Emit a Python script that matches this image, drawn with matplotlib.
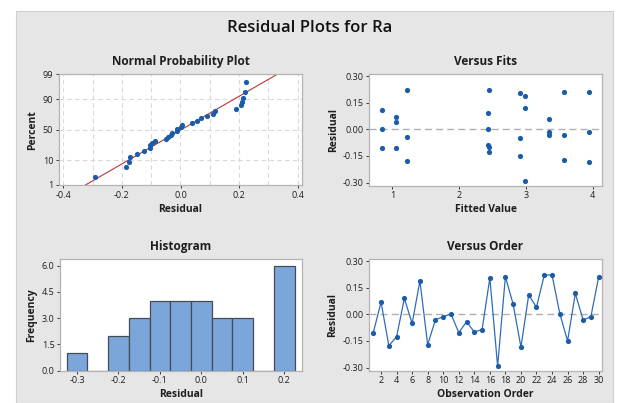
import numpy as np
import matplotlib
matplotlib.use("Agg")
import matplotlib.pyplot as plt
from matplotlib.patches import Rectangle
from statistics import NormalDist

# ---- data ----
residuals = [-0.103, 0.069, -0.177, -0.126, 0.090, -0.051, 0.189, -0.171, -0.030, -0.013,
             0.002, -0.103, -0.042, -0.099, -0.086, 0.206, -0.293, 0.213, 0.057, -0.185,
             0.110, 0.040, 0.222, 0.223, 0.004, -0.150, 0.118, -0.032, -0.013, 0.211]
group_fits = [0.84, 1.05, 1.22, 2.45, 2.43, 2.91, 2.99, 3.575, 3.34, 3.95]
fitted = [group_fits[i % 10] for i in range(30)]
order = list(range(1, 31))
hist_edges = [-0.325, -0.275, -0.225, -0.175, -0.125, -0.075, -0.025, 0.025, 0.075, 0.125, 0.175, 0.225]
pct_ticks = [1, 10, 50, 90, 99]
npp_xticks = [-0.4, -0.2, 0.0, 0.2, 0.4]
res_ticks = [-0.30, -0.15, 0.00, 0.15, 0.30]
res_ticklabels = ["-0.30", "-0.15", "0.00", "0.15", "0.30"]
fit_ticks = [1, 2, 3, 4]
order_ticks = list(range(2, 31, 2))
hist_yticks = [0.0, 1.5, 3.0, 4.5, 6.0]
hist_xticks = [-0.3, -0.2, -0.1, 0.0, 0.1, 0.2]

plt.rcParams['font.family'] = ['Open Sans', 'DejaVu Sans']

BG = "#e6e6e6"
BLUE = "#1a5ca8"
LINEBLUE = "#2f6cb8"
TXT = "#1e1e1e"
SPINE = "#b4b4b4"
MS = 14

fig = plt.figure(figsize=(6.19, 4.03), dpi=100)
fig.patch.set_facecolor("white")
# gray panel
fig.patches.append(Rectangle((16/619, 0), (613-16)/619, 1 - 11/403, transform=fig.transFigure,
                             facecolor=BG, edgecolor="#cfcfcf", linewidth=0.8, zorder=-10))
fig.text(0.5, 1 - 28/403, "Residual Plots for Ra", ha="center", va="center",
         fontsize=12, fontweight="semibold", color="#111111")

def style(ax):
    ax.set_facecolor("white")
    for s in ax.spines.values():
        s.set_color(SPINE)
        s.set_linewidth(0.9)
    ax.tick_params(axis="both", labelsize=6.5, colors=TXT, length=2.5, width=0.6, pad=1.5)
    for lab in ax.get_xticklabels() + ax.get_yticklabels():
        lab.set_color(TXT)

def fx(px): return px / 619
def fy(px): return 1 - px / 403

# ---------------- Normal probability plot ----------------
ax1 = fig.add_axes([fx(58.7), fy(185), fx(302.3 - 58.7), (185 - 74.3) / 403])
nd = NormalDist()
n = len(residuals)
srt = np.sort(residuals)
zq = np.array([nd.inv_cdf((i - 0.3) / (n + 0.4)) for i in range(1, n + 1)])
mu = float(np.mean(residuals))
sd = float(np.std(residuals, ddof=1))
zlo, zhi = nd.inv_cdf(0.01), nd.inv_cdf(0.99)
zz = np.linspace(zlo, zhi, 50)
for x in np.arange(-0.4, 0.41, 0.1):
    ax1.axvline(x, color="#d9d9d9", lw=0.8, ls=(0, (4, 3)), zorder=0)
for p in [10, 50, 90]:
    ax1.axhline(nd.inv_cdf(p / 100), color="#d9d9d9", lw=0.8, ls=(0, (4, 3)), zorder=0)
ax1.plot(mu + sd * zz, zz, color="#b5373a", lw=0.8, zorder=2)
ax1.scatter(srt, zq, s=MS, color=BLUE, zorder=3, linewidths=0)
ax1.set_xlim(-0.416, 0.416)
ax1.set_ylim(zlo, zhi)
ax1.set_xticks(npp_xticks)
ax1.set_xticklabels([f"{v:.1f}" for v in npp_xticks])
ax1.set_yticks([nd.inv_cdf(p / 100) for p in pct_ticks])
ax1.set_yticklabels([str(p) for p in pct_ticks])
style(ax1)
ax1.set_title("Normal Probability Plot", fontsize=8.5, fontweight="bold", color=TXT, pad=7)
ax1.set_xlabel("Residual", fontsize=7.5, fontweight="bold", color=TXT, labelpad=3)
ax1.set_ylabel("Percent", fontsize=7.5, fontweight="bold", color=TXT, labelpad=3)

# ---------------- Versus fits ----------------
ax2 = fig.add_axes([fx(369.3), fy(185.7), fx(602 - 369.3), (185.7 - 74.3) / 403])
ax2.axhline(0, color="#b0b0b0", lw=1.0, ls=(0, (5, 3)), zorder=1)
ax2.scatter(fitted, residuals, s=MS, color=BLUE, zorder=3, linewidths=0)
ax2.set_xlim(0.655, 4.14)
ax2.set_ylim(-0.318, 0.311)
ax2.set_xticks(fit_ticks)
ax2.set_yticks(res_ticks)
ax2.set_yticklabels(res_ticklabels)
style(ax2)
ax2.set_title("Versus Fits", fontsize=8.5, fontweight="bold", color=TXT, pad=7)
ax2.set_xlabel("Fitted Value", fontsize=7.5, fontweight="bold", color=TXT, labelpad=3)
ax2.set_ylabel("Residual", fontsize=7.5, fontweight="bold", color=TXT, labelpad=3)

# ---------------- Histogram ----------------
ax3 = fig.add_axes([fx(60), fy(370.7), fx(301.7 - 60), (370.7 - 259.3) / 403])
ax3.hist(residuals, bins=hist_edges, color="#7ba6da", edgecolor="#454c55", linewidth=0.9, zorder=2)
ax3.set_xlim(-0.341, 0.242)
ax3.set_ylim(0, 6.36)
ax3.set_xticks(hist_xticks)
ax3.set_xticklabels([f"{v:.1f}" for v in hist_xticks])
ax3.set_yticks(hist_yticks)
ax3.set_yticklabels([f"{v:.1f}" for v in hist_yticks])
style(ax3)
ax3.set_title("Histogram", fontsize=8.5, fontweight="bold", color=TXT, pad=7)
ax3.set_xlabel("Residual", fontsize=7.5, fontweight="bold", color=TXT, labelpad=3)
ax3.set_ylabel("Frequency", fontsize=7.5, fontweight="bold", color=TXT, labelpad=3)

# ---------------- Versus order ----------------
ax4 = fig.add_axes([fx(368.7), fy(370.7), fx(602.3 - 368.7), (370.7 - 259.3) / 403])
ax4.axhline(0, color="#b0b0b0", lw=1.0, ls=(0, (5, 3)), zorder=1)
ax4.plot(order, residuals, color=LINEBLUE, lw=0.9, zorder=2)
ax4.scatter(order, residuals, s=MS, color=BLUE, zorder=3, linewidths=0)
ax4.set_xlim(0.41, 30.47)
ax4.set_ylim(-0.318, 0.311)
ax4.set_xticks(order_ticks)
ax4.set_yticks(res_ticks)
ax4.set_yticklabels(res_ticklabels)
style(ax4)
ax4.set_title("Versus Order", fontsize=8.5, fontweight="bold", color=TXT, pad=7)
ax4.set_xlabel("Observation Order", fontsize=7.5, fontweight="bold", color=TXT, labelpad=3)
ax4.set_ylabel("Residual", fontsize=7.5, fontweight="bold", color=TXT, labelpad=3)

fig.savefig("out.png", dpi=100, facecolor=fig.get_facecolor())
